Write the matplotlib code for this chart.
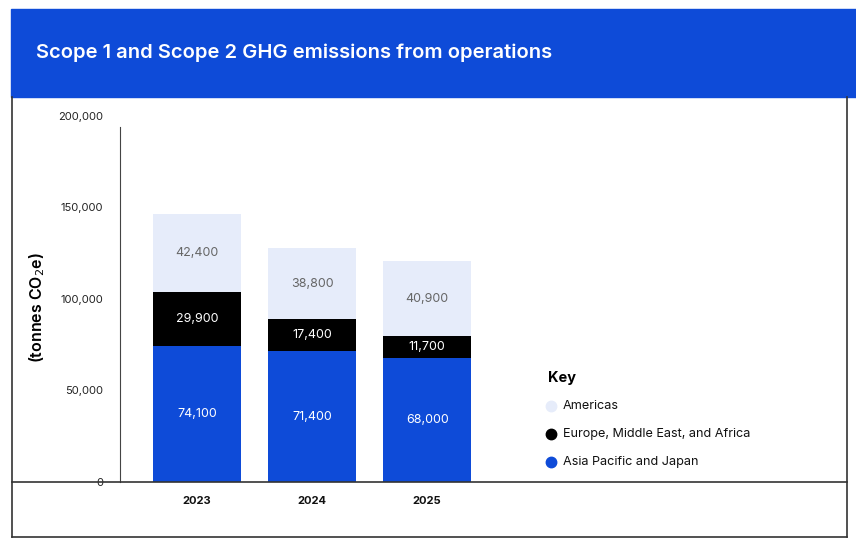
import numpy as np
import matplotlib.pyplot as plt
from matplotlib.lines import Line2D
from matplotlib.patches import Rectangle

# Data
years = ['2023', '2024', '2025']
asia_pacific = [74100, 71400, 68000]
emea = [29900, 17400, 11700]
americas = [42400, 38800, 40900]
y_ticks = [0, 50000, 100000, 150000, 200000]

BLUE = '#0E4BD8'
LIGHT = '#E6ECFA'
BLACK = '#000000'

plt.rcParams['font.family'] = ['Inter', 'DejaVu Sans']

W, H = 856, 550
fig = plt.figure(figsize=(W / 100, H / 100), dpi=100)

def fx(px):
    return px / W

def fy(py):
    return 1 - py / H

# Header band and frame
fig.patches.append(Rectangle((fx(11), fy(97)), fx(856) - fx(11), fy(9) - fy(97),
                             transform=fig.transFigure, color=BLUE, zorder=0))
fig.text(fx(36), fy(53), 'Scope 1 and Scope 2 GHG emissions from operations',
         color='white', fontsize=14.5, fontweight='semibold', va='center', ha='left')
frame_kw = dict(transform=fig.transFigure, color='#333333', lw=1.2)
fig.lines.append(Line2D([fx(12), fx(12)], [fy(97), fy(537)], **frame_kw))
fig.lines.append(Line2D([fx(12), fx(847)], [fy(537), fy(537)], **frame_kw))
fig.lines.append(Line2D([fx(847), fx(847)], [fy(97), fy(537)], **frame_kw))
fig.lines.append(Line2D([fx(12), fx(847)], [fy(482), fy(482)], **frame_kw))

# Axes: y=0 at px 482, 200000 at px ~116
ax = fig.add_axes([fx(120), fy(482), fx(847) - fx(120), fy(116) - fy(482)])
x = np.arange(len(years))
width = 0.765

ax.bar(x, asia_pacific, width, color=BLUE, label='Asia Pacific and Japan')
ax.bar(x, emea, width, bottom=asia_pacific, color=BLACK,
       label='Europe, Middle East, and Africa')
bottom3 = np.array(asia_pacific) + np.array(emea)
ax.bar(x, americas, width, bottom=bottom3, color=LIGHT, label='Americas')

for i in range(len(years)):
    ax.text(x[i], asia_pacific[i] / 2, f'{asia_pacific[i]:,}', ha='center',
            va='center', color='white', fontsize=9)
    ax.text(x[i], asia_pacific[i] + emea[i] / 2, f'{emea[i]:,}', ha='center',
            va='center', color='white', fontsize=9)
    ax.text(x[i], bottom3[i] + americas[i] / 2, f'{americas[i]:,}', ha='center',
            va='center', color='#666666', fontsize=9)

ax.set_xlim(-0.67, 5.65)
ax.set_ylim(0, 200000)
ax.set_yticks(y_ticks)
ax.set_yticklabels([f'{v:,}' for v in y_ticks], fontsize=8, color='#222222')
ax.set_xticks(x)
ax.set_xticklabels(years, fontsize=8, fontweight='bold', color='#111111')
ax.tick_params(axis='both', length=0)
ax.tick_params(axis='y', pad=12)
ax.tick_params(axis='x', pad=10)
for s in ['top', 'right', 'bottom']:
    ax.spines[s].set_visible(False)
ax.spines['left'].set_color('#444444')
ax.spines['left'].set_bounds(0, 194000)

fig.text(fx(37), fy(308), '(tonnes CO$_2$e)', fontsize=11.5, fontweight='semibold',
         rotation=90, ha='center', va='center')

# Legend
fig.text(fx(548), fy(378), 'Key', fontsize=10.5, fontweight='bold', va='center')
legend_items = [('Americas', LIGHT), ('Europe, Middle East, and Africa', BLACK),
                ('Asia Pacific and Japan', BLUE)]
for k, (name, col) in enumerate(legend_items):
    yy = 406 + 28 * k
    fig.lines.append(Line2D([fx(551)], [fy(yy)], marker='o', markersize=7.5,
                            color=col, transform=fig.transFigure, ls='none'))
    fig.text(fx(563), fy(yy), name, fontsize=9.1, va='center', color='#111111')

fig.savefig('out.png', dpi=100)
